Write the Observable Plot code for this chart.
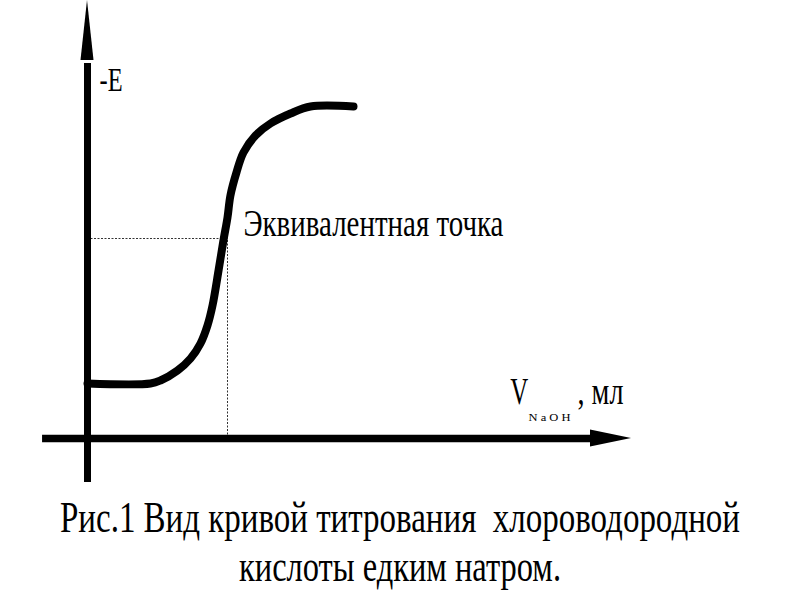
<!DOCTYPE html>
<html><head><meta charset="utf-8">
<script src="https://cdn.jsdelivr.net/npm/d3@7"></script>
<script src="https://cdn.jsdelivr.net/npm/@observablehq/plot@0.6"></script>
<style>
body{margin:0;background:#fff;width:800px;height:600px;overflow:hidden}
#chart svg{display:block}
#cap{font-family:"Liberation Serif","DejaVu Serif","Noto Serif",Tinos,"Times New Roman",serif;font-size:45px;line-height:49px;margin-top:8px;color:#000;width:800px}
#cap span{display:block;width:max-content;white-space:pre;position:relative;left:50%;transform-origin:center}
</style></head><body>
<div id="chart"></div>
<div id="cap"><span id="l1"></span><span id="l2"></span></div>
<script>
// titration curve: volume of NaOH (ml) vs -E (mV, schematic)
const volume    = [0, 4.5, 5.21, 6.43, 7.36, 8.07, 8.57, 8.93, 9.36, 9.71, 10, 10.21, 10.64, 11.14, 12, 13.07, 14.5, 15.93, 19];
const potential = [110, 110, 116, 136, 160, 190, 226, 266, 336, 396, 442, 486, 532, 572, 606, 630, 650, 664, 664];
const eqVolume = 10;
const eqPotential = 400;
const yLabel = "-E";
const xLabel = "V";
const xSub = "N a O H";
const xUnit = ", мл";
const eqLabel = "Эквивалентная точка";
const captionLines = ["Рис.1 Вид кривой титрования  хлороводородной", "кислоты едким натром."];

const curve = volume.map((v, i) => ({v, e: potential[i]}));

const W = 800, H = 485;
const xDomain = [-87 / 14, 713 / 14];
const yDomain = [-94, 876];
const font = "'Liberation Serif', 'DejaVu Serif', 'Noto Serif', Tinos, 'Times New Roman', serif";

const plot = Plot.plot({
  width: W, height: H,
  margin: 0,
  x: {domain: xDomain, axis: null},
  y: {domain: yDomain, axis: null},
  marks: [
    // dotted guides to equivalence point
    Plot.ruleY([eqPotential], {x1: 0, x2: eqVolume, stroke: "#333", strokeWidth: 1, strokeDasharray: "2,1.5"}),
    Plot.ruleX([eqVolume], {y1: 0, y2: eqPotential, stroke: "#333", strokeWidth: 1, strokeDasharray: "2,1.5"}),
    // axes shafts
    Plot.ruleY([0], {x1: -3.21, x2: 36.2, stroke: "black", strokeWidth: 7.5}),
    Plot.ruleX([0], {y1: -88, y2: 750, stroke: "black", strokeWidth: 7}),
    // curve
    Plot.line(curve, {x: "v", y: "e", stroke: "black", strokeWidth: 8, strokeLinecap: "round", strokeLinejoin: "round", curve: "catmull-rom"}),
    // labels
    Plot.text([yLabel], {x: 0.86, y: 696, text: d => d, textAnchor: "start", lineAnchor: "bottom", fontSize: 34, fontFamily: font, fill: "black"}),
    Plot.text([eqLabel], {x: 11.14, y: 406, text: d => d, textAnchor: "start", lineAnchor: "bottom", fontSize: 37, fontFamily: font, fill: "black"}),
    Plot.text([xLabel], {x: 30.2, y: 70, text: d => d, textAnchor: "start", lineAnchor: "bottom", fontSize: 37, fontFamily: font, fill: "black"}),
    Plot.text([xSub], {x: 31.5, y: 36, text: d => d, textAnchor: "start", lineAnchor: "bottom", fontSize: 11, fontFamily: font, fill: "black"}),
    Plot.text([xUnit], {x: 35.0, y: 70, text: d => d, textAnchor: "start", lineAnchor: "bottom", fontSize: 37, fontFamily: font, fill: "black"})
  ]
});
document.getElementById("chart").appendChild(plot);

// arrowheads computed from the scales
const sx = plot.scale("x"), sy = plot.scale("y");
const svg = d3.select(plot);
const x0 = sx.apply(0), y0 = sy.apply(0);
const yTip = sy.apply(876), yBase = sy.apply(756);
svg.append("polygon").attr("fill", "black")
  .attr("points", [[x0, yTip], [x0 - 6.5, yBase], [x0 + 6.5, yBase]].map(p => p.join(",")).join(" "));
const xTip = sx.apply(38.86), xBase = sx.apply(35.93);
svg.append("polygon").attr("fill", "black")
  .attr("points", [[xTip, y0], [xBase, y0 - 8.5], [xBase, y0 + 8.5]].map(p => p.join(",")).join(" "));

// condense text to match the narrow lettering of the original
const targets = {"-E": 23, "Эквивалентная точка": 260, "V": 18, "N a O H": 42, ", мл": 46};
plot.querySelectorAll("text").forEach(t => {
  const w = targets[t.textContent];
  if (w) { t.setAttribute("textLength", w); t.setAttribute("lengthAdjust", "spacingAndGlyphs"); }
});

// caption
const capTargets = [680, 322];
["l1", "l2"].forEach((id, i) => {
  const el = document.getElementById(id);
  el.textContent = captionLines[i];
  const w = el.getBoundingClientRect().width;
  el.style.transform = `translateX(-50%) scaleX(${capTargets[i] / w})`;
});
</script>
</body></html>
